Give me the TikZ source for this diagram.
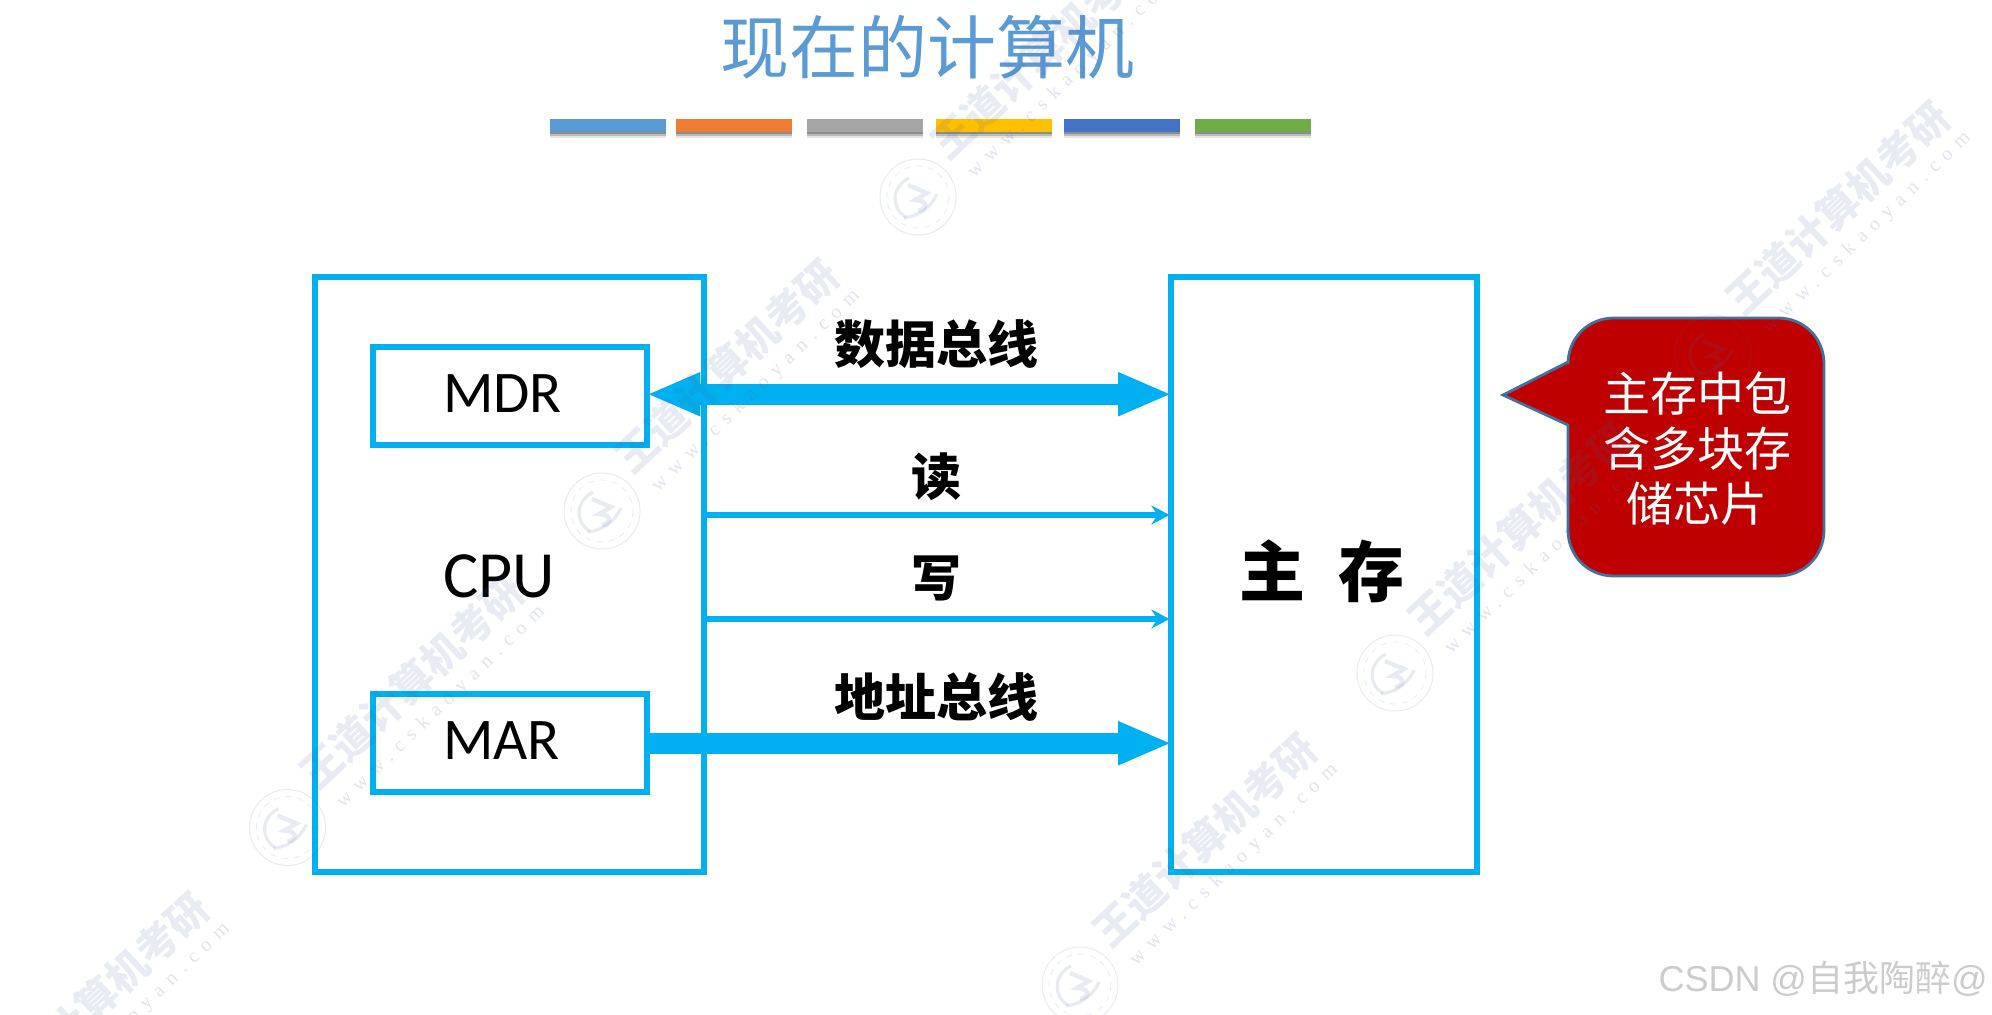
\documentclass[tikz,border=0pt]{standalone}
\usepackage{fontspec}
\setmainfont{Carlito}
\newfontfamily\cjk{Noto Sans CJK SC}
\newfontfamily\arialf{Liberation Sans}
\newfontfamily\wwwf[LetterSpace=40]{Liberation Serif}
\usetikzlibrary{arrows.meta,shadows}
\definecolor{bluel}{HTML}{00B0F0}
\definecolor{titlec}{HTML}{5B9BD5}
\definecolor{redc}{HTML}{BF0000}
\definecolor{calloutedge}{HTML}{41719C}
\definecolor{wmc}{HTML}{5060A0}
\definecolor{bar2}{HTML}{ED7D31}
\definecolor{bar3}{HTML}{A5A5A5}
\definecolor{bar4}{HTML}{FFC000}
\definecolor{bar5}{HTML}{4472C4}
\definecolor{bar6}{HTML}{70AD47}
\tikzset{
  x=0.5pt,y=-0.5pt,
  boxs/.style={draw=bluel,line width=3.2pt,inner sep=0pt,outer sep=1.6pt,anchor=north west},
  latin/.style={font=\fontsize{29.5}{32}\selectfont,text=black,inner sep=0pt},
  buslabel/.style={font=\cjk\bfseries\fontsize{25.5}{28}\selectfont,text=black,inner sep=0pt},
  thinlabel/.style={font=\cjk\bfseries\fontsize{25}{28}\selectfont,text=black,inner sep=0pt},
  busline/.style={draw=bluel,line width=10.5pt,shorten >=-2pt,shorten <=-2pt},
  thinline/.style={draw=bluel,line width=2.8pt,shorten >=-.7pt,-{Stealth[length=9pt,width=9.5pt,inset=3pt]}},
  bar/.style={minimum height=6.5pt,minimum width=58pt,inner sep=0pt,outer sep=0pt,
    general shadow={shadow xshift=0pt,shadow yshift=-2.8pt,opacity=.10,fill=black},
    general shadow={shadow xshift=0pt,shadow yshift=-1.8pt,opacity=.18,fill=black},
    general shadow={shadow xshift=0pt,shadow yshift=-0.9pt,opacity=.25,fill=black}},
  wm/.style={font=\cjk\bfseries\fontsize{20.5}{21}\selectfont,text=wmc,text opacity=.12,rotate=43,inner sep=0pt},
  wmurl/.style={font=\wwwf\fontsize{10}{10}\selectfont,text=wmc,text opacity=.17,rotate=44,inner sep=0pt},
  sealline/.style={draw=wmc,draw opacity=.12},
}
\begin{document}
\begin{tikzpicture}
\useasboundingbox (0,0) rectangle (1992,1014);
\fill[white] (0,0) rectangle (1992,1014);
% title and bars
\node[font=\cjk\fontsize{34.5}{38}\selectfont,text=titlec,inner sep=0pt] (title) at (927,47) {现在的计算机};
\node[bar,fill=titlec] (b1) at (608,125.5) {};
\node[bar,fill=bar2] (b2) at (733.5,125.5) {};
\node[bar,fill=bar3] (b3) at (864.5,125.5) {};
\node[bar,fill=bar4] (b4) at (994,125.5) {};
\node[bar,fill=bar5] (b5) at (1121.5,125.5) {};
\node[bar,fill=bar6] (b6) at (1253,125.5) {};
% boxes
\node[boxs,minimum width=194.5pt,minimum height=297.5pt] (cpu) at (312,274) {};
\node[boxs,minimum width=153pt,minimum height=297.5pt] (mem) at (1168,274) {};
\node[boxs,minimum width=137pt,minimum height=49pt] (mdr) at (370,344) {};
\node[boxs,minimum width=137pt,minimum height=49pt] (mar) at (370,691) {};
\node[latin] (mdrt) at (502.5,394) {MDR};
\node[latin] (mart) at (501.5,741) {MAR};
\node[latin,font=\fontsize{33}{36}\selectfont] (cput) at (499.5,576) {CPU};
\node[font=\cjk\bfseries\fontsize{33}{36}\selectfont,inner sep=0pt] (memt) at (1322,571) {主\hspace{.5em}存};
% connectors
\coordinate (dt) at ([yshift=1pt]mdr.east);
\coordinate (rd) at (705,515);
\coordinate (wr) at (705,619);
\draw[busline,{Triangle[length=27pt,width=20pt]}-{Triangle[length=27pt,width=20pt]}]
  (dt) -- (mem.west |- dt);
\draw[busline,-{Triangle[length=27pt,width=20pt]}]
  (mar.east) -- (mem.west |- mar.east);
\draw[thinline] (rd) -- (mem.west |- rd);
\draw[thinline] (wr) -- (mem.west |- wr);
\node[buslabel] (l1) at (936,344) {数据总线};
\node[thinlabel] (l2) at (936,477) {读};
\node[thinlabel] (l3) at (936,578) {写};
\node[buslabel] (l4) at (936,697) {地址总线};
% callout
\path[fill=redc,draw=calloutedge,line width=1.4pt,line join=miter]
  (1503,395) -- (1568,362) -- (1568,364)
  .. controls (1568,338) and (1588,318) .. (1614,318)
  -- (1778,318)
  .. controls (1804,318) and (1824,338) .. (1824,364)
  -- (1824,530)
  .. controls (1824,556) and (1804,576) .. (1778,576)
  -- (1614,576)
  .. controls (1588,576) and (1568,556) .. (1568,530)
  -- (1568,425) -- cycle;
\node[font=\cjk\fontsize{23.5}{27.5}\selectfont,text=white,align=center,inner sep=0pt] (ct) at (1697,449)
  {主存中包\\含多块存\\储芯片};
% watermarks
\foreach \n/\x/\y in {a/1043/52,b/1838/208,c/727/366,d/412/682,e/1520/528,f/1205/840,g/97/999}{
  \node[wm] (wm\n) at (\x,\y) {王道计算机考研};
  \node[wmurl] (wu\n) at (\x+29,\y+25) {www.cskaoyan.com};
}
\foreach \x/\y in {918/197,602/511,287.5/827.5,1395/673,1080/985,1713/353}{
  \begin{scope}[shift={(\x,\y)}]
    \draw[sealline,line width=.5pt] (0,0) circle[radius=38];
    \draw[sealline,line width=.4pt,dashed] (0,0) circle[radius=31];
    \draw[sealline,line width=1.6pt] (-9,-19) .. controls (-27,-10) and (-27,12) .. (-12,20);
    \draw[sealline,line width=2.2pt] (-10,-12) -- (9,-4) -- (-3,3) .. controls (9,3) and (11,12) .. (0,14);
    \draw[sealline,line width=1.6pt] (-14,21) .. controls (0,19) and (12,12) .. (19,-3);
  \end{scope}
}
% credit
\node[font=\arialf\fontsize{18}{20}\selectfont,text=black!20,inner sep=0pt,anchor=east] (csdn) at (1988,979)
  {CSDN @{\cjk 自我陶醉}@};
\end{tikzpicture}
\end{document}
